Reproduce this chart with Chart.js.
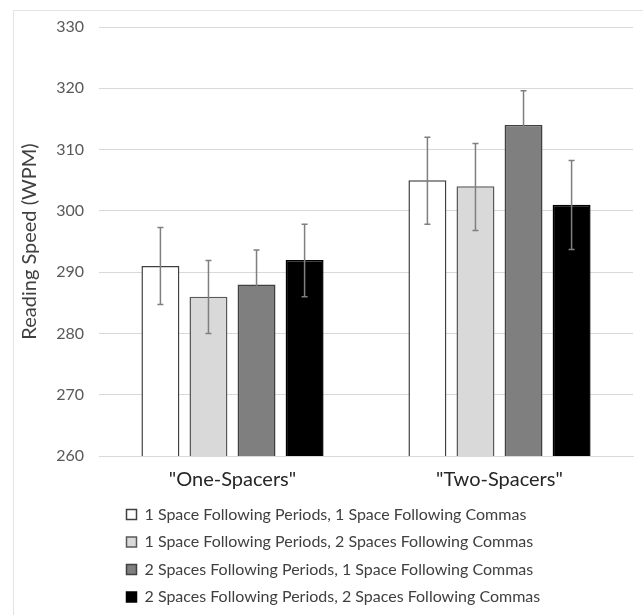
<!DOCTYPE html>
<html>
<head>
<meta charset="utf-8">
<script src="https://cdn.jsdelivr.net/npm/chart.js@4/dist/chart.umd.min.js"></script>
<style>
  html, body { margin: 0; padding: 0; background: #fff; }
  #wrap { position: relative; width: 643px; height: 615px; overflow: hidden; }
  #frame { position: absolute; left: 13px; top: 10px; width: 700px; height: 700px; border: 1px solid #e3e3e3; box-sizing: border-box; }
  canvas { position: absolute; left: 0; top: 0; }
</style>
</head>
<body>
<div id="wrap">
  <div id="frame"></div>
  <canvas id="chart" width="643" height="615"></canvas>
</div>
<script>
// categories and series (reading speed, WPM)
const categories = ['"One-Spacers"', '"Two-Spacers"'];
const seriesNames = [
  '1 Space Following Periods, 1 Space Following Commas',
  '1 Space Following Periods, 2 Spaces Following Commas',
  '2 Spaces Following Periods, 1 Space Following Commas',
  '2 Spaces Following Periods, 2 Spaces Following Commas'
];
const oneOne = [291, 305];
const oneTwo = [286, 304];
const twoOne = [288, 314];
const twoTwo = [292, 301];

// error bar ends
const errLow = [
  [284.7, 297.8],
  [280.0, 296.8],
  [282.3, 306.6],
  [286.0, 293.7]
];
const errHigh = [
  [297.3, 312.0],
  [291.9, 311.0],
  [293.6, 319.6],
  [297.8, 308.2]
];

const yTicks = [260, 270, 280, 290, 300, 310, 320, 330];

const fills = ['#ffffff', '#d9d9d9', '#7f7f7f', '#000000'];
const borders = ['#404040', '#595959', '#404040', '#000000'];

const font = 'Lato, "Open Sans", sans-serif';

// draws the error bars on top of the bars
const errorBars = {
  id: 'errorBars',
  afterDatasetsDraw(chart) {
    const ctx = chart.ctx;
    const y = chart.scales.y;
    ctx.save();
    ctx.strokeStyle = '#7f7f7f';
    ctx.lineWidth = 1.5;
    chart.data.datasets.forEach((ds, i) => {
      const meta = chart.getDatasetMeta(i);
      meta.data.forEach((bar, j) => {
        const top = y.getPixelForValue(errHigh[i][j]);
        const bot = y.getPixelForValue(errLow[i][j]);
        ctx.beginPath();
        ctx.moveTo(bar.x, top);
        ctx.lineTo(bar.x, bot);
        ctx.moveTo(bar.x - 3, top);
        ctx.lineTo(bar.x + 3, top);
        ctx.moveTo(bar.x - 3, bot);
        ctx.lineTo(bar.x + 3, bot);
        ctx.stroke();
      });
    });
    ctx.restore();
  }
};

// nudge the legend block so its lines start under the first bar
const legendShift = {
  id: 'legendShift',
  afterLayout(chart) {
    const lg = chart.legend;
    if (lg) {
      lg.left += 16;
      lg.right += 16;
    }
  }
};

new Chart(document.getElementById('chart'), {
  type: 'bar',
  data: {
    labels: categories,
    datasets: [oneOne, oneTwo, twoOne, twoTwo].map((vals, i) => ({
      label: seriesNames[i],
      data: vals,
      backgroundColor: fills[i],
      borderColor: borders[i],
      borderWidth: 1.5,
      categoryPercentage: 0.72,
      barPercentage: 0.79
    }))
  },
  options: {
    responsive: false,
    animation: false,
    layout: { padding: { top: 27, right: 10, bottom: 0, left: 0 } },
    plugins: {
      tooltip: { enabled: false },
      legend: {
        position: 'bottom',
        align: 'start',
        fullSize: false,
        labels: {
          boxWidth: 10,
          boxHeight: 10,
          padding: 11.5,
          color: '#404040',
          font: { family: font, size: 16 }
        }
      }
    },
    scales: {
      x: {
        grid: { display: false, drawTicks: false },
        border: { color: '#d9d9d9' },
        ticks: { color: '#262626', padding: 12, font: { family: font, size: 20 } },
        afterFit(s) { s.height = 39; }
      },
      y: {
        min: 260,
        max: 330,
        afterBuildTicks(s) { s.ticks = yTicks.map(v => ({ value: v })); },
        grid: { color: '#d9d9d9', drawTicks: false },
        border: { display: false },
        ticks: { color: '#595959', padding: 15, font: { family: font, size: 16 } },
        title: {
          display: true,
          text: 'Reading Speed (WPM)',
          color: '#404040',
          padding: { top: 18, bottom: 0 },
          font: { family: font, size: 20 }
        },
        afterFit(s) { s.width = 99; }
      }
    }
  },
  plugins: [errorBars, legendShift]
});
</script>
</body>
</html>
